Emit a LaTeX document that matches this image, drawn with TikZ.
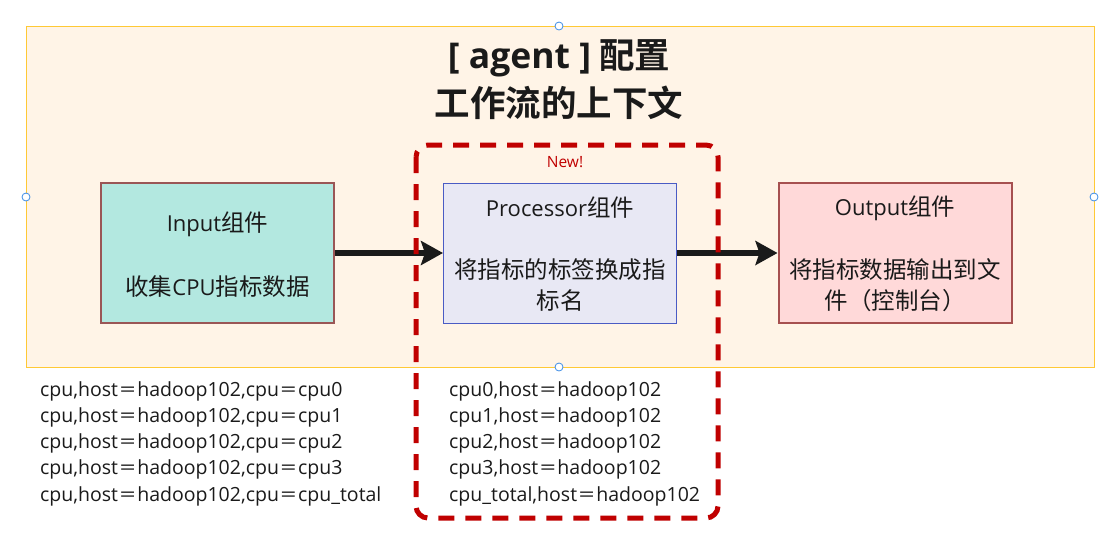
\documentclass[tikz,border=0pt]{standalone}
\usepackage{fontspec}
\usepackage{graphicx}
\setmainfont{Noto Sans CJK SC}[BoldFont={* Bold}]
\newfontfamily\lat{Open Sans}
\usetikzlibrary{arrows.meta}
\newcommand\eqk{\kern1.5pt\scalebox{1.45}[1]{=}\kern1.5pt}
\definecolor{bgfill}{HTML}{FFF4E7}
\definecolor{bgline}{HTML}{FFC935}
\definecolor{handle}{HTML}{3C8CE6}
\definecolor{txt}{HTML}{1A1A1A}
\definecolor{infill}{HTML}{B3E8E0}
\definecolor{inline}{HTML}{9A5656}
\definecolor{prfill}{HTML}{E8E8F4}
\definecolor{prline}{HTML}{4A5BC4}
\definecolor{oufill}{HTML}{FFD9D9}
\definecolor{ouline}{HTML}{A65050}
\definecolor{newred}{HTML}{C00000}
\begin{document}
\begin{tikzpicture}[x=1pt,y=-1pt,
  comp/.style={draw, line width=2pt, minimum width=233pt, minimum height=140pt, inner sep=0pt},
  lbl/.style={text=txt, font=\fontsize{23.5}{28}\selectfont, inner sep=0pt},
  ttl/.style={text=txt, font=\fontsize{35.5}{40}\selectfont\bfseries, inner sep=0pt},
  code/.style={text=txt, font=\fontsize{19.5}{22}\selectfont\lat, inner sep=0pt, anchor=west},
  hnd/.style={draw=handle, fill=white, line width=0.8pt},
  flow/.style={line width=6pt, draw=txt, -{Stealth[length=22pt,width=24pt,inset=4pt]}}
]
\useasboundingbox (0,0) rectangle (1108,539);
\fill[white] (0,0) rectangle (1108,539);
% background
\draw[fill=bgfill, draw=bgline, line width=1pt] (26,26) rectangle (1094,367);
% title
\node[ttl] (t1) at (559,58) {{\lat\bfseries [ agent ]} 配置};
\node[ttl] (t2) at (559,103) {工作流的上下文};
% boxes
\node[comp, fill=infill, draw=inline] (in) at (217.5,253) {};
\node[comp, fill=prfill, draw=prline, line width=1pt] (pr) at (560,253) {};
\node[comp, fill=oufill, draw=ouline] (ou) at (895,253) {};
\node[lbl] (in1) at (217.5,224) {{\lat\fontsize{22}{26}\selectfont Input}组件};
\node[lbl] (in2) at (217.5,287) {收集{\lat\fontsize{22}{26}\selectfont CPU}指标数据};
\node[lbl] (pr1) at (560,208) {{\lat\fontsize{22}{26}\selectfont Processor}组件};
\node[lbl] (pr2) at (560,270) {将指标的标签换成指};
\node[lbl] (pr3) at (560,301) {标名};
\node[lbl] (ou1) at (895,208) {{\lat\fontsize{22}{26}\selectfont Output}组件};
\node[lbl] (ou2) at (895,270) {将指标数据输出到文};
\node[lbl] (ou3) at (895,301) {件（控制台）};
% arrows
\draw[flow] (in.east) -- (pr.west);
\draw[flow] (pr.east) -- (ou.west);
% dashed region
\draw[draw=newred, line width=5pt, dash pattern=on 16pt off 11pt, rounded corners=12pt] (416,145) rectangle (718,518);
\node[text=newred, font=\fontsize{15.5}{18}\selectfont\lat, inner sep=0pt] (new) at (565,162) {New!};
% code lines
\node[code] (a1) at (40,391) {cpu,host\eqk hadoop102,cpu\eqk cpu0};
\node[code] (a2) at (40,417) {cpu,host\eqk hadoop102,cpu\eqk cpu1};
\node[code] (a3) at (40,443) {cpu,host\eqk hadoop102,cpu\eqk cpu2};
\node[code] (a4) at (40,469) {cpu,host\eqk hadoop102,cpu\eqk cpu3};
\node[code] (a5) at (40,496) {cpu,host\eqk hadoop102,cpu\eqk cpu\_total};
\node[code] (b1) at (449,391) {cpu0,host\eqk hadoop102};
\node[code] (b2) at (449,417) {cpu1,host\eqk hadoop102};
\node[code] (b3) at (449,443) {cpu2,host\eqk hadoop102};
\node[code] (b4) at (449,469) {cpu3,host\eqk hadoop102};
\node[code] (b5) at (449,496) {cpu\_total,host\eqk hadoop102};
% selection handles
\draw[hnd] (559,26) circle (4pt);
\draw[hnd] (26,197) circle (4pt);
\draw[hnd] (1094,197) circle (4pt);
\draw[hnd] (559,367) circle (4pt);
\end{tikzpicture}
\end{document}
